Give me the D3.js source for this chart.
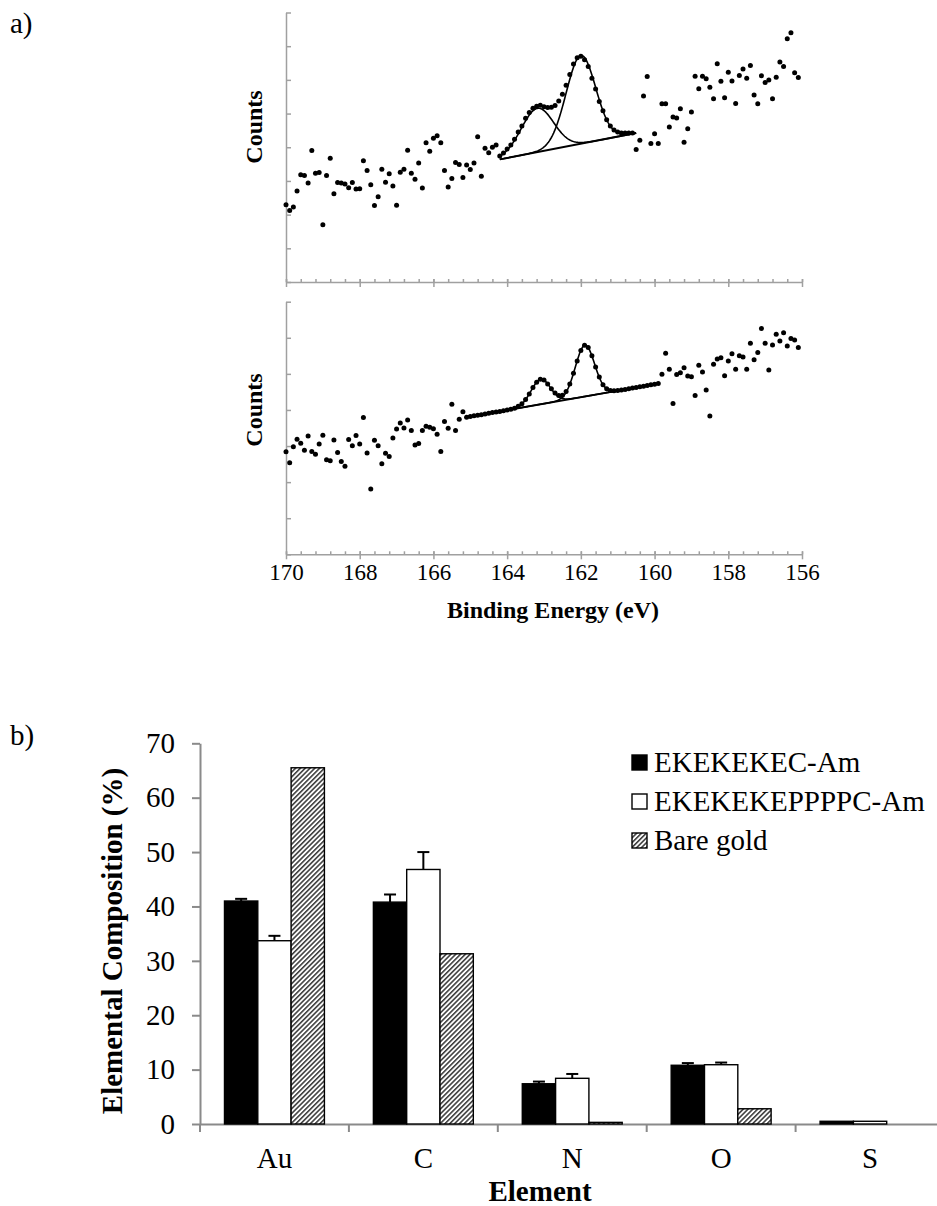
<!DOCTYPE html>
<meta charset="utf-8">
<style>
    body { margin: 0; background: #fff; }
    .axis path, .axis line { stroke: #a0a0a0; stroke-width: 1.5px; fill: none; }
    .baxis path, .baxis line { stroke: #8a8a8a; stroke-width: 2px; fill: none; }
</style>
<svg id="svg" width="937" height="1206"></svg>
<script src="https://d3js.org/d3.v7.min.js"></script>
<script>

    var serif = '"Liberation Serif", "Times New Roman", serif';

    // ---- a) XPS S2p spectra, counts every 0.1 eV from 170.0 down to 156.1 (arbitrary units)
    var topCounts = [
        2.29, 2.12, 2.23, 2.70, 3.18, 3.16, 2.94, 3.90, 3.23, 3.25,
        1.70, 3.16, 3.67, 2.62, 2.95, 2.94, 2.91, 2.80, 2.95, 2.76,
        2.77, 3.60, 3.31, 2.89, 2.27, 2.53, 3.35, 2.96, 3.21, 2.85,
        2.28, 3.26, 3.35, 3.91, 3.23, 3.05, 3.53, 2.79, 4.13, 3.88,
        4.27, 4.34, 4.13, 3.31, 2.82, 3.07, 3.55, 3.49, 3.10, 3.47,
        3.34, 3.53, 4.31, 3.14, 3.97, 3.84, 4.00, 4.07,
        3.74, 3.83, 3.95, 4.07, 4.24, 4.45, 4.63, 4.86, 5.03, 5.16,
        5.22, 5.25, 5.20, 5.18, 5.19, 5.24, 5.37, 5.57, 5.84, 6.16,
        6.47, 6.66, 6.70, 6.60, 6.40, 6.05, 5.73, 5.36, 5.08, 4.82,
        4.63, 4.51, 4.45, 4.42, 4.42, 4.42, 4.42,
        3.93, 4.21, 5.52, 6.10, 4.11, 4.40, 4.11, 5.29, 5.29, 4.60,
        4.90, 4.87, 5.14, 4.15, 4.55, 5.05, 6.11, 5.74, 6.11, 6.03,
        5.78, 5.44, 6.48, 5.96, 5.47, 6.23, 5.97, 5.30, 6.13, 6.32,
        6.05, 6.43, 5.55, 5.29, 6.12, 5.92, 6.00, 5.44, 6.08, 6.53,
        6.40, 7.22, 7.40, 6.21, 6.07
    ];
    var bottomCounts = [
        2.84, 2.54, 2.98, 3.19, 3.08, 2.88, 3.28, 2.85, 2.77, 3.06,
        3.30, 2.62, 2.59, 3.17, 2.82, 2.57, 2.44, 3.18, 3.01, 3.29,
        3.06, 3.79, 2.81, 1.81, 3.16, 3.01, 2.51, 2.80, 2.71, 3.22,
        3.47, 3.64, 3.50, 3.72, 3.43, 3.03, 3.07, 3.43, 3.55, 3.52,
        3.48, 3.33, 2.85, 3.68, 3.49, 4.16, 3.43, 3.74, 3.95,
        3.80, 3.82, 3.84, 3.85, 3.87, 3.89, 3.91, 3.93, 3.94, 3.96,
        3.98, 4.00, 4.02, 4.05, 4.10, 4.17, 4.29, 4.44, 4.62, 4.77,
        4.85, 4.83, 4.72, 4.59, 4.47, 4.40, 4.41, 4.51, 4.72, 5.02,
        5.36, 5.65, 5.79, 5.73, 5.50, 5.19, 4.91, 4.70, 4.59, 4.54,
        4.53, 4.54, 4.55, 4.57, 4.59, 4.61, 4.62, 4.64, 4.66, 4.68,
        4.70, 4.71, 4.73,
        4.99, 5.57, 5.13, 4.18, 4.98, 5.03, 5.17, 4.94, 4.92, 4.40,
        5.24, 5.05, 4.55, 3.83, 5.27, 5.41, 5.45, 4.95, 5.36, 5.56,
        5.13, 5.50, 5.47, 5.13, 5.85, 5.39, 5.59, 6.26, 5.85, 5.11,
        5.80, 6.10, 5.91, 6.14, 5.77, 5.98, 5.94, 5.73
    ];

    // fitted peaks: linear background [eStart, vStart, eEnd, vEnd] + gaussian components
    var topBackground = [164.2, 3.64, 160.5, 4.42];
    var topPeaks = [{c: 163.18, h: 1.30, s: 0.44}, {c: 162.0, h: 2.62, s: 0.40}];
    var bottomBackground = [165.1, 3.80, 159.9, 4.73];
    var bottomPeaks = [{c: 163.09, h: 0.69, s: 0.26}, {c: 161.89, h: 1.42, s: 0.26}];

    var energyTicks = [170, 168, 166, 164, 162, 160, 158, 156];

    // ---- b) elemental composition
    var elements = ["Au", "C", "N", "O", "S"];
    var seriesNames = ["EKEKEKEC-Am", "EKEKEKEPPPPC-Am", "Bare gold"];
    var ekecValues = [41.0, 40.8, 7.4, 10.8, 0.5];
    var ekecErrors = [0.4, 1.4, 0.4, 0.4, 0.05];
    var ppppcValues = [33.7, 46.8, 8.4, 10.9, 0.5];
    var ppppcErrors = [0.9, 3.2, 0.8, 0.4, 0.05];
    var bareValues = [65.5, 31.3, 0.3, 2.8, 0];
    var bareErrors = [0, 0, 0, 0, 0];

    var svg = d3.select("svg");

    var defs = svg.append("defs");
    defs.append("pattern")
        .attr("id", "hatch")
        .attr("patternUnits", "userSpaceOnUse")
        .attr("width", 3.4).attr("height", 3.4)
        .attr("patternTransform", "rotate(45)")
        .call(function (p) {
            p.append("rect").attr("width", 3.4).attr("height", 3.4).attr("fill", "#fff");
            p.append("line").attr("x1", 0.8).attr("x2", 0.8).attr("y1", 0).attr("y2", 3.4)
                .attr("stroke", "#000").attr("stroke-width", 1.2);
        });

    var x = d3.scaleLinear().domain([170, 156]).range([286, 802]);

    function drawSpectrum(counts, y, nTicks, background, peaks, labels, countsY) {
        var axisY = y(0);

        // y axis, ticks inside
        svg.append("g").attr("class", "axis")
            .attr("transform", "translate(" + x(170) + ",0)")
            .call(d3.axisRight(y).ticks(nTicks).tickSize(5).tickSizeOuter(0).tickFormat(""));

        // minor x ticks every 0.4 eV
        svg.append("g").attr("class", "axis")
            .attr("transform", "translate(0," + axisY + ")")
            .call(d3.axisTop(x).tickValues(d3.range(36).map(function (k) { return 156 + 0.4 * k; }))
                .tickSize(3).tickSizeOuter(0).tickFormat(""))
            .select(".domain").remove();

        // major x ticks crossing the axis
        var gx = svg.append("g").attr("class", "axis")
            .attr("transform", "translate(0," + axisY + ")")
            .call(d3.axisBottom(x).tickValues(energyTicks).tickSize(5).tickSizeOuter(0)
                .tickFormat(labels ? d3.format("d") : ""));
        gx.selectAll(".tick line").attr("y1", -3);
        gx.selectAll("text").attr("y", 25.7).attr("dy", 0).attr("fill", "#000").style("font-size", "23px");

        svg.append("text")
            .attr("transform", "translate(262," + countsY + ") rotate(-90)")
            .attr("text-anchor", "middle")
            .style("font-size", "24px").style("font-weight", "bold")
            .text("Counts");

        // fit: background line and background + each component
        var bg = function (e) {
            return background[1] + (background[0] - e) / (background[0] - background[2]) * (background[3] - background[1]);
        };
        var fitE = d3.range(0, background[0] - background[2] + 0.001, 0.02).map(function (d) { return background[0] - d; });
        var line = d3.line().x(function (d) { return x(d[0]); }).y(function (d) { return y(d[1]); });

        svg.append("path")
            .attr("d", line([[background[0], background[1]], [background[2], background[3]]]))
            .attr("fill", "none").attr("stroke", "#000").attr("stroke-width", 2);

        peaks.forEach(function (p) {
            var pts = fitE.map(function (e) {
                return [e, bg(e) + p.h * Math.exp(-(e - p.c) * (e - p.c) / (2 * p.s * p.s))];
            });
            svg.append("path").attr("d", line(pts))
                .attr("fill", "none").attr("stroke", "#000").attr("stroke-width", 1.6);
        });

        svg.append("g").selectAll("circle")
            .data(counts)
            .enter().append("circle")
            .attr("cx", function (d, i) { return x(170 - 0.1 * i); })
            .attr("cy", function (d) { return y(d); })
            .attr("r", 2.5)
            .attr("fill", "#000");
    }

    var yTop = d3.scaleLinear().domain([0, 8]).range([282, 12.5]);
    var yBottom = d3.scaleLinear().domain([0, 7]).range([554.3, 301.7]);

    drawSpectrum(topCounts, yTop, 8, topBackground, topPeaks, false, 127);
    drawSpectrum(bottomCounts, yBottom, 7, bottomBackground, bottomPeaks, true, 410);

    svg.append("text").attr("x", 553).attr("y", 618).attr("text-anchor", "middle")
        .style("font-size", "24px").style("font-weight", "bold")
        .text("Binding Energy (eV)");

    svg.append("text").attr("x", 10).attr("y", 33).style("font-size", "29px").text("a)");
    svg.append("text").attr("x", 10).attr("y", 745).style("font-size", "29px").text("b)");

    // ---- bar chart
    var x0 = d3.scaleBand().domain(elements).range([200, 944.5]);
    var x1 = d3.scaleBand().domain(seriesNames).range([0, x0.bandwidth()]).paddingOuter(0.735);
    var yb = d3.scaleLinear().domain([0, 70]).range([1124, 743.3]);

    var gy = svg.append("g").attr("class", "baxis")
        .attr("transform", "translate(200,0)")
        .call(d3.axisLeft(yb).ticks(7).tickSize(8).tickSizeOuter(0));
    gy.selectAll("text").attr("x", -25).attr("fill", "#000").style("font-size", "29px");

    var gxb = svg.append("g").attr("class", "baxis")
        .attr("transform", "translate(0,1124)")
        .call(d3.axisBottom(x0).tickSize(0).tickSizeOuter(0));
    gxb.selectAll("text").attr("y", 44).attr("dy", 0).attr("fill", "#000").style("font-size", "29px");
    gxb.selectAll(".bound")
        .data(elements.map(function (e) { return x0(e); }).concat([x0.range()[1]]))
        .enter().append("line")
        .attr("x1", function (d) { return d; }).attr("x2", function (d) { return d; })
        .attr("y1", 0).attr("y2", 8);

    var fills = ["#000", "#fff", "url(#hatch)"];
    var series = [
        {name: seriesNames[0], values: ekecValues, errors: ekecErrors},
        {name: seriesNames[1], values: ppppcValues, errors: ppppcErrors},
        {name: seriesNames[2], values: bareValues, errors: bareErrors}
    ];

    series.forEach(function (s, k) {
        var g = svg.append("g");
        elements.forEach(function (el, i) {
            var v = s.values[i];
            if (v <= 0) return;
            var bx = x0(el) + x1(s.name);
            g.append("rect")
                .attr("x", bx).attr("y", yb(v))
                .attr("width", x1.bandwidth()).attr("height", yb(0) - yb(v))
                .attr("fill", fills[k]).attr("stroke", "#000").attr("stroke-width", 1.4);
            var e = s.errors[i];
            if (e > 0.1) {
                var cx = bx + x1.bandwidth() / 2;
                g.append("line").attr("x1", cx).attr("x2", cx)
                    .attr("y1", yb(v)).attr("y2", yb(v + e))
                    .attr("stroke", "#000").attr("stroke-width", 2);
                g.append("line").attr("x1", cx - 6).attr("x2", cx + 6)
                    .attr("y1", yb(v + e)).attr("y2", yb(v + e))
                    .attr("stroke", "#000").attr("stroke-width", 2);
            }
        });
    });

    svg.append("text")
        .attr("transform", "translate(122,941) rotate(-90)")
        .attr("text-anchor", "middle")
        .style("font-size", "29px").style("font-weight", "bold")
        .text("Elemental Composition (%)");

    svg.append("text").attr("x", 540).attr("y", 1201).attr("text-anchor", "middle")
        .style("font-size", "29px").style("font-weight", "bold")
        .text("Element");

    // legend
    var legend = svg.append("g").attr("transform", "translate(632,755)");
    seriesNames.forEach(function (name, k) {
        legend.append("rect")
            .attr("x", 0).attr("y", k * 39).attr("width", 15).attr("height", 15)
            .attr("fill", fills[k]).attr("stroke", "#000").attr("stroke-width", 1.4);
        legend.append("text")
            .attr("x", 22).attr("y", k * 39 + 16.5)
            .style("font-size", "29px")
            .text(name);
    });

    svg.selectAll("text").style("font-family", serif).style("fill", "#000");

</script>
